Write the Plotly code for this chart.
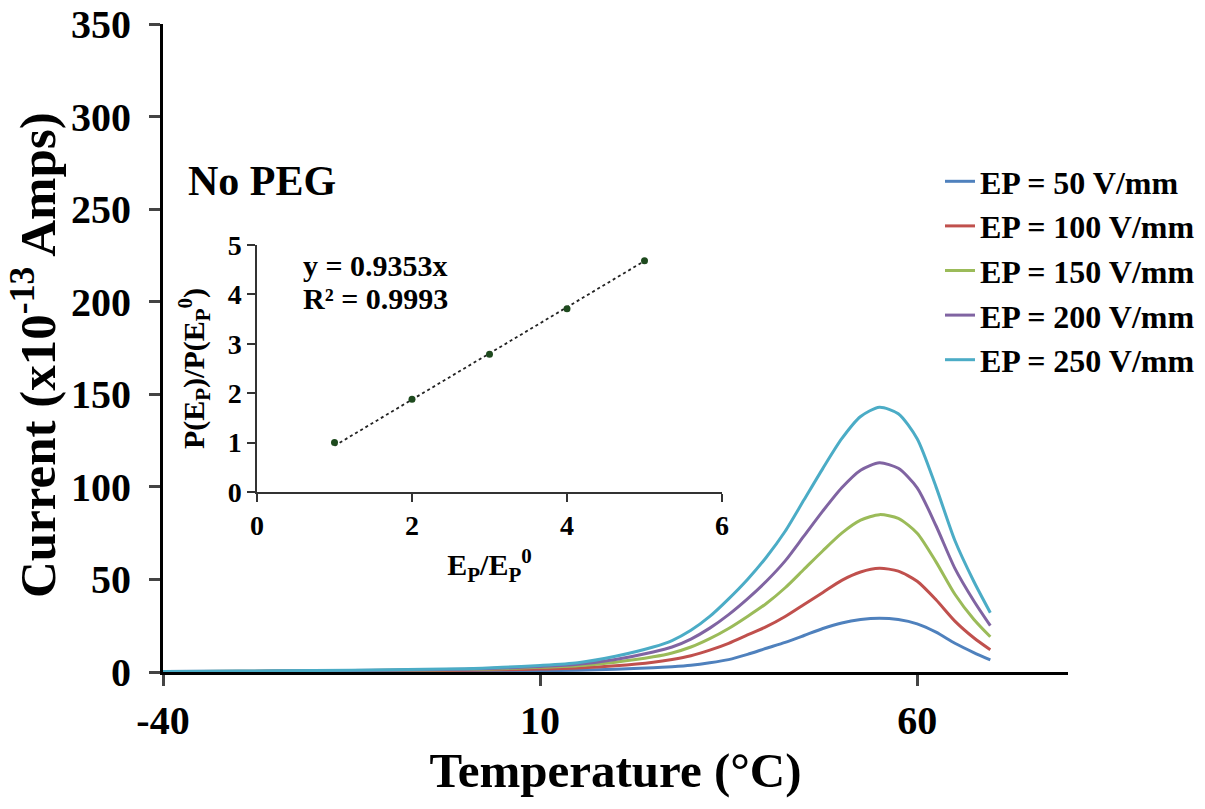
import plotly.graph_objects as go

# ---------------- data ----------------
temperature = [-40, -30, -20, -10, 0, 5, 10, 15, 20, 25, 27.5, 30, 32.5, 35, 37.5, 40, 42.5, 45,
               47.5, 50, 52.5, 55, 57.5, 60, 62.5, 65, 67.5, 69.7]

ep50  = [0.1, 0.1, 0.2, 0.3, 0.4, 0.5, 0.7, 1.0, 1.5, 2.3, 2.9, 3.7, 5.0, 6.7, 9.5, 12.8, 16, 19.7,
         23.5, 26.5, 28.3, 29, 28.3, 26, 21.5, 15.5, 10.5, 6.5]
ep100 = [0.2, 0.3, 0.4, 0.6, 0.9, 1.2, 1.6, 2.2, 3.4, 5.3, 6.8, 8.8, 11.8, 15.5, 20, 24.5, 30, 36.5,
         43, 49.5, 54, 56, 54.5, 49, 39, 27.5, 18.5, 12]
ep150 = [0.2, 0.4, 0.6, 0.9, 1.3, 1.8, 2.5, 3.4, 5.3, 8.2, 10.3, 13.5, 18, 23.5, 30, 37, 45.5, 55.5,
         65.5, 75, 82, 85, 83, 75, 59.5, 42, 28.5, 19]
ep200 = [0.3, 0.4, 0.7, 1.0, 1.5, 2.1, 3.0, 4.2, 6.8, 10.8, 13.5, 17.8, 23.7, 31, 39.5, 49, 60, 73.5,
         87, 99.5, 109, 113, 110, 99.5, 79, 56, 38.5, 25]
ep250 = [0.3, 0.5, 0.8, 1.2, 1.8, 2.5, 3.5, 5.0, 8.5, 13.5, 17, 22.5, 30, 39.5, 50, 62, 76, 93,
         110, 126, 138, 143, 139.5, 126, 100, 71, 49, 32]

series_names = ["EP = 50 V/mm", "EP = 100 V/mm", "EP = 150 V/mm", "EP = 200 V/mm", "EP = 250 V/mm"]
series_values = [ep50, ep100, ep150, ep200, ep250]
series_colors = ["#4F81BD", "#C0504D", "#9BBB59", "#8064A2", "#4BACC6"]

x_ticks = [-40, 10, 60]
x_tick_labels = ["-40", "10", "60"]
y_ticks = [0, 50, 100, 150, 200, 250, 300, 350]
y_tick_labels = [f"{v}\u00a0" for v in y_ticks]

# inset
ratio_ep = [1, 2, 3, 4, 5]
ratio_p = [1.0, 1.88, 2.79, 3.71, 4.68]
slope = 0.9353
r2 = 0.9993
inset_x_ticks = [0, 2, 4, 6]
inset_y_ticks = [0, 1, 2, 3, 4, 5]

FONT = "Liberation Serif"
W, H = 1205, 809
L, R, T, B = 163, 137, 24, 137
PW, PH = W - L - R, H - T - B


def px_x(px):
    return (px - L) / PW


def px_y(py):
    return (H - B - py) / PH


fig = go.Figure()

for name, vals, col in zip(series_names, series_values, series_colors):
    fig.add_trace(go.Scatter(x=temperature, y=vals, mode="lines", name=name,
                             line=dict(color=col, width=3, shape="spline", smoothing=0.7),
                             xaxis="x", yaxis="y"))

# inset trendline and points
fig.add_trace(go.Scatter(x=[ratio_ep[0], ratio_ep[-1]],
                         y=[slope * ratio_ep[0], slope * ratio_ep[-1]],
                         mode="lines", line=dict(color="#222222", width=1.8, dash="dot"),
                         showlegend=False, xaxis="x2", yaxis="y2"))
fig.add_trace(go.Scatter(x=ratio_ep, y=ratio_p, mode="markers",
                         marker=dict(color="#1E4A1E", size=7),
                         showlegend=False, xaxis="x2", yaxis="y2"))

fig.update_layout(
    width=W, height=H,
    margin=dict(l=L, r=R, t=T, b=B, autoexpand=False),
    paper_bgcolor="white", plot_bgcolor="white",
    font=dict(family=FONT, color="black", weight="bold"),
    xaxis=dict(range=[-40, 80], tickvals=x_ticks, ticktext=x_tick_labels, ticks="outside",
               ticklen=11, tickwidth=3, automargin=False,
               showline=True, linewidth=3, linecolor="black", showgrid=False, zeroline=False,
               tickfont=dict(size=40, family=FONT, weight="bold"),
               title=dict(text="Temperature (°C)", font=dict(size=49, family=FONT, weight="bold"), standoff=6)),
    yaxis=dict(range=[0, 350], tickvals=y_ticks, ticktext=y_tick_labels, ticks="outside",
               ticklen=11, tickwidth=3, automargin=False,
               showline=True, linewidth=3, linecolor="black", showgrid=False, zeroline=False,
               tickfont=dict(size=40, family=FONT, weight="bold")),
    xaxis2=dict(domain=[px_x(257), px_x(722)], anchor="y2", range=[0, 6], tickvals=inset_x_ticks,
                ticks="outside", ticklen=8, tickwidth=1.5, showline=True, linewidth=1.5,
                linecolor="#333333", tickcolor="#333333", showgrid=False, zeroline=False,
                automargin=False,
                tickfont=dict(size=28, family=FONT, weight="bold"),
                title=dict(text="E<sub>P</sub>/E<sub>P</sub><sup>0</sup>", font=dict(size=30, family=FONT, weight="bold"), standoff=14)),
    yaxis2=dict(domain=[px_y(492), px_y(245)], anchor="x2", range=[0, 5], tickvals=inset_y_ticks,
                ticks="outside", ticklen=8, tickwidth=1.5, showline=True, linewidth=1.5,
                linecolor="#333333", tickcolor="#333333", showgrid=False, zeroline=False,
                automargin=False,
                tickfont=dict(size=28, family=FONT, weight="bold"),
                title=dict(text="P(E<sub>P</sub>)/P(E<sub>P</sub><sup>0</sup>)", font=dict(size=30, family=FONT, weight="bold"), standoff=14)),
    legend=dict(x=px_x(940), y=px_y(154), xanchor="left", yanchor="top", bgcolor="rgba(0,0,0,0)",
                font=dict(size=32, family=FONT, weight="bold"), tracegroupgap=0,
                itemwidth=30),
    showlegend=True,
)

# y-axis title (placed precisely as rotated text)
fig.add_annotation(text="Current (x10<sup>-13</sup> Amps)", xref="paper", yref="paper",
                   x=px_x(68), y=px_y(355), xanchor="right", yanchor="middle", textangle=-90,
                   showarrow=False, font=dict(size=51, family=FONT, weight="bold"))
fig.add_annotation(text="No PEG", xref="paper", yref="paper", x=px_x(186), y=px_y(181),
                   xanchor="left", yanchor="middle", showarrow=False,
                   font=dict(size=42, family=FONT, weight="bold"))
fig.add_annotation(text=f"y = {slope}x", xref="paper", yref="paper",
                   x=px_x(301), y=px_y(265), xanchor="left", yanchor="middle", showarrow=False,
                   font=dict(size=30, family=FONT, weight="bold"))
fig.add_annotation(text=f"R² = {r2}", xref="paper", yref="paper",
                   x=px_x(301), y=px_y(298), xanchor="left", yanchor="middle", showarrow=False,
                   font=dict(size=30, family=FONT, weight="bold"))

fig.write_html("out.html", config={"displayModeBar": False},
               post_script="document.body.style.margin='0';document.body.style.overflow='hidden';")
